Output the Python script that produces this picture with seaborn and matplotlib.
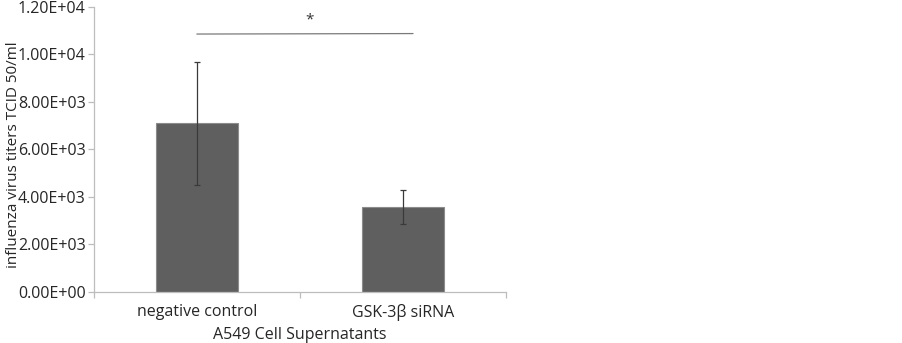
import matplotlib
matplotlib.use('Agg')
import matplotlib.pyplot as plt
import seaborn as sns
import pandas as pd
from matplotlib.ticker import FormatStrFormatter, FixedLocator

# 데이터
groups = ['negative control', 'GSK-3β siRNA']
titers = [7100, 3580]
errors = [2600, 720]
sig_y = [10860, 10880]   # 유의성 표시선 높이
star_y = 11150

df = pd.DataFrame({'group': groups, 'titer': titers})

sns.set_style('white')
plt.rcParams['font.family'] = ['Open Sans', 'DejaVu Sans']

fig = plt.figure(figsize=(9.03, 3.43), dpi=100)
ax = fig.add_axes([0.104, 0.1487, 0.456, 0.831])

sns.barplot(data=df, x='group', y='titer', color='#5f5f5f', width=0.4,
            errorbar=None, edgecolor='#8c8c8c', linewidth=0.8, saturation=1, ax=ax)
ax.errorbar(range(len(groups)), titers, yerr=errors, fmt='none',
            ecolor='#3a3a3a', elinewidth=0.9, capsize=2, capthick=0.9)

# 유의성 표시
ax.plot([0, 1.05], sig_y, color='#7a7a7a', lw=0.9)
ax.text(0.545, star_y, '*', ha='center', va='bottom', fontsize=11, color='#333333')

ax.set_xlim(-0.5, 1.5)
ax.set_ylim(0, 12000)
ax.set_yticks(range(0, 12001, 2000))
ax.yaxis.set_major_formatter(FormatStrFormatter('%.2E'))
ax.xaxis.set_minor_locator(FixedLocator([-0.5, 0.5, 1.5]))
ax.tick_params(axis='x', which='major', length=0, labelsize=11.5, pad=9)
ax.tick_params(axis='x', which='minor', length=4, color='#bdbdbd', width=0.9, direction='out', bottom=True)
ax.tick_params(axis='y', length=4, color='#bdbdbd', width=0.9, direction='out', left=True, labelsize=11.5, pad=2)

for side in ['top', 'right']:
    ax.spines[side].set_visible(False)
for side in ['left', 'bottom']:
    ax.spines[side].set_color('#bdbdbd')
    ax.spines[side].set_linewidth(0.9)

ax.set_xlabel('A549 Cell Supernatants', fontsize=11.5, labelpad=4)
ax.set_ylabel('influenza virus titers TCID 50/ml', fontsize=11)
ax.yaxis.set_label_coords(-0.176, 0.48)

fig.savefig('out.png', dpi=100)
